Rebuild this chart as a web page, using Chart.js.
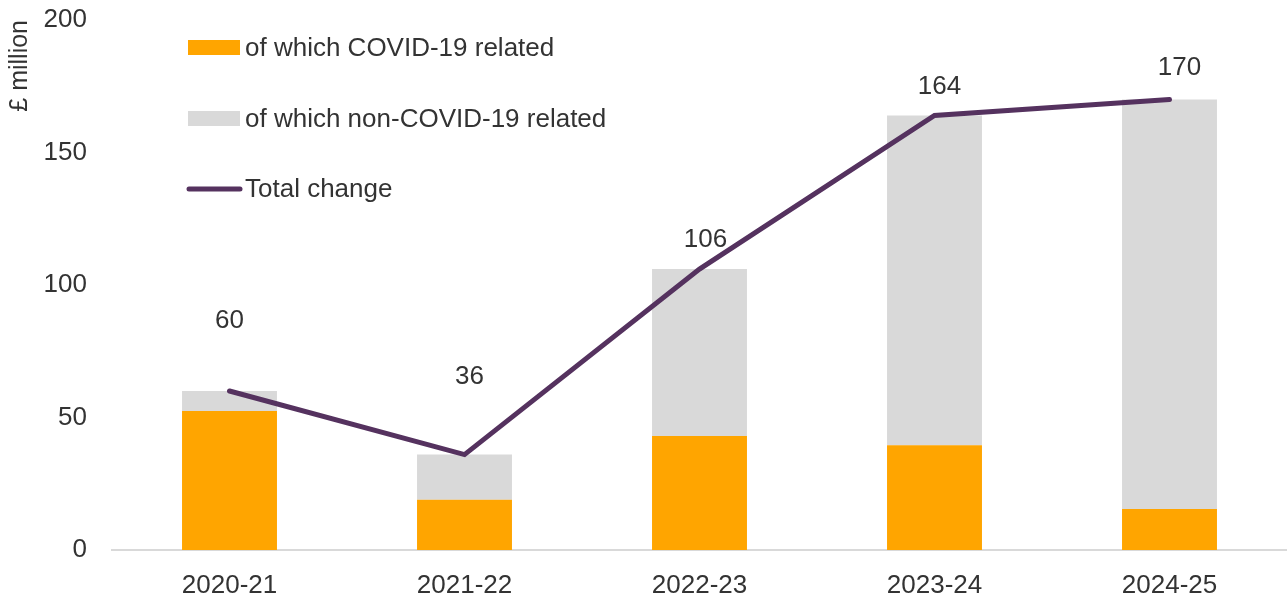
<!DOCTYPE html>
<html>
<head>
<meta charset="utf-8">
<script src="https://cdn.jsdelivr.net/npm/chart.js@4/dist/chart.umd.min.js"></script>
<style>
  html, body { margin: 0; padding: 0; background: #fff; }
  #wrap { width: 1287px; height: 599px; position: relative; }
</style>
</head>
<body>
<div id="wrap"><canvas id="c"></canvas></div>
<script>
// ---- Data ----
const categories = ['2020-21', '2021-22', '2022-23', '2023-24', '2024-25'];
const covidRelated = [52.5, 19, 43, 39.5, 15.5];
const nonCovidRelated = [7.5, 17, 63, 124.5, 154.5];
const totalChange = [60, 36, 106, 164, 170];
const yTicks = [0, 50, 100, 150, 200];
const seriesNames = ['of which COVID-19 related', 'of which non-COVID-19 related', 'Total change'];
const yTitle = '£ million';

// ---- Styles ----
const ORANGE = '#FFA500';
const GREY = '#D9D9D9';
const PURPLE = '#55325F';
const TEXT = '#333333';
const FONT = 'Liberation Sans, Arial, sans-serif';
// label pixel nudges (dx, dy) relative to each line point
const labelNudges = [[0, -71], [5, -79], [6, -30], [5, -30], [10, -33]];

const legendPlugin = {
  id: 'customLegend',
  afterDraw(chart) {
    const ctx = chart.ctx;
    ctx.save();
    ctx.font = '26px ' + FONT;
    ctx.textBaseline = 'middle';
    ctx.textAlign = 'left';
    const items = [
      { type: 'box', color: ORANGE, y: 47.5 },
      { type: 'box', color: GREY, y: 118.5 },
      { type: 'line', color: PURPLE, y: 189 }
    ];
    items.forEach((it, i) => {
      if (it.type === 'box') {
        ctx.fillStyle = it.color;
        ctx.fillRect(188, it.y - 7.5, 52, 15);
      } else {
        ctx.strokeStyle = it.color;
        ctx.lineWidth = 5;
        ctx.lineCap = 'round';
        ctx.beginPath();
        ctx.moveTo(189, it.y);
        ctx.lineTo(240, it.y);
        ctx.stroke();
      }
      ctx.fillStyle = TEXT;
      ctx.fillText(chart.data.datasets[i].label, 245, it.y + 1);
    });
    ctx.restore();
  }
};

const lineLabelPlugin = {
  id: 'lineLabels',
  afterDatasetsDraw(chart) {
    const ctx = chart.ctx;
    const idx = chart.data.datasets.findIndex(d => d.type === 'line');
    const meta = chart.getDatasetMeta(idx);
    ctx.save();
    ctx.font = '26px ' + FONT;
    ctx.fillStyle = TEXT;
    ctx.textAlign = 'center';
    ctx.textBaseline = 'middle';
    meta.data.forEach((pt, i) => {
      const n = labelNudges[i];
      ctx.fillText(String(chart.data.datasets[idx].data[i]), pt.x + n[0], pt.y + n[1] + 1);
    });
    ctx.restore();
  }
};

new Chart(document.getElementById('c'), {
  data: {
    labels: categories,
    datasets: [
      {
        type: 'bar', label: seriesNames[0], data: covidRelated,
        backgroundColor: ORANGE, stack: 'bars', order: 2,
        barPercentage: 0.404, categoryPercentage: 1
      },
      {
        type: 'bar', label: seriesNames[1], data: nonCovidRelated,
        backgroundColor: GREY, stack: 'bars', order: 2,
        barPercentage: 0.404, categoryPercentage: 1
      },
      {
        type: 'line', label: seriesNames[2], data: totalChange,
        borderColor: PURPLE, borderWidth: 5, pointRadius: 0,
        borderCapStyle: 'round', borderJoinStyle: 'miter',
        tension: 0, stack: 'line', order: 1
      }
    ]
  },
  options: {
    responsive: true,
    maintainAspectRatio: false,
    animation: false,
    layout: { padding: { top: 20, right: 0, bottom: 0, left: 0 } },
    plugins: {
      legend: { display: false },
      tooltip: { enabled: false }
    },
    scales: {
      x: {
        stacked: true,
        afterFit(scale) { scale.height = 49; scale.paddingLeft = 0; scale.paddingRight = 0; },
        grid: { display: false, drawTicks: false },
        border: { display: true, color: GREY, width: 2 },
        ticks: {
          color: TEXT, padding: 20, maxRotation: 0, minRotation: 0,
          font: { family: FONT, size: 26, lineHeight: 1.2 }
        }
      },
      y: {
        stacked: true,
        min: 0, max: 200,
        afterBuildTicks(scale) { scale.ticks = yTicks.map(v => ({ value: v })); },
        afterFit(scale) { scale.width = 112; scale.paddingTop = 0; scale.paddingBottom = 0; },
        grid: { display: false, drawTicks: false },
        border: { display: false },
        ticks: {
          color: TEXT, padding: 25,
          font: { family: FONT, size: 26, lineHeight: 1.2 }
        },
        title: {
          display: true, text: yTitle, align: 'end', color: TEXT,
          padding: { top: 8, bottom: 0 },
          font: { family: FONT, size: 25, lineHeight: 1 }
        }
      }
    }
  },
  plugins: [legendPlugin, lineLabelPlugin]
});
</script>
</body>
</html>
